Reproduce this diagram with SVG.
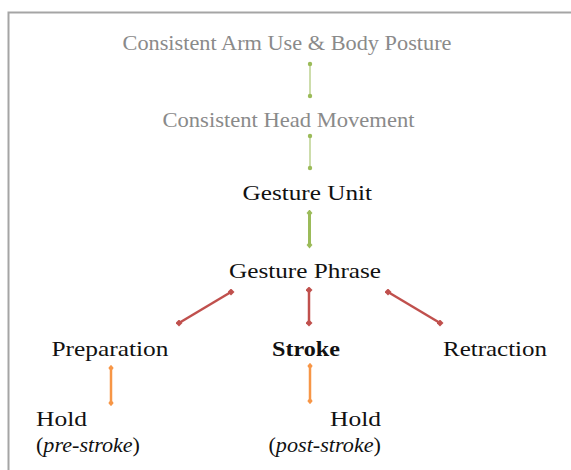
<svg xmlns="http://www.w3.org/2000/svg" width="571" height="470" viewBox="0 0 571 470">
<style>
text{font-family:"Liberation Serif","Times New Roman",serif;font-size:22px;fill:#111}
.g{fill:#8a8a8a}
.c{stroke-linecap:butt;fill:none}
.gr{stroke:#9bbb59}
.rd{stroke:#c0504d}
.or{stroke:#f79646}
</style>
<defs>
<marker id="mg" viewBox="-3 -3 6 6" markerWidth="6" markerHeight="6" markerUnits="userSpaceOnUse"><circle r="2.2" fill="#9bbb59"/></marker>
<marker id="mg2" viewBox="-3 -3 6 6" markerWidth="7" markerHeight="7" markerUnits="userSpaceOnUse"><path d="M0,-3L2.5,0L0,3L-2.5,0Z" fill="#9bbb59"/></marker>
<marker id="mr" viewBox="-3 -3 6 6" markerWidth="7" markerHeight="7" markerUnits="userSpaceOnUse"><path d="M0,-3L3,0L0,3L-3,0Z" fill="#c0504d"/></marker>
<marker id="mo" viewBox="-3 -3 6 6" markerWidth="6.5" markerHeight="6.5" markerUnits="userSpaceOnUse"><path d="M0,-3L2.5,0L0,3L-2.5,0Z" fill="#f79646"/></marker>
</defs>
<path d="M8.5,470V12.5H571" fill="none" stroke="#a5a5a5" stroke-width="2"/>
<g id="connectors">
<line class="c gr" x1="310" y1="64" x2="310" y2="96" stroke-width="1" marker-start="url(#mg)" marker-end="url(#mg)"/>
<line class="c gr" x1="310" y1="136" x2="310" y2="168" stroke-width="1" marker-start="url(#mg)" marker-end="url(#mg)"/>
<line class="c gr" x1="309.5" y1="213" x2="309.5" y2="245" stroke-width="3" marker-start="url(#mg2)" marker-end="url(#mg2)"/>
<line class="c rd" x1="231" y1="292" x2="179" y2="323" stroke-width="2.5" marker-start="url(#mr)" marker-end="url(#mr)"/>
<line class="c rd" x1="309" y1="290" x2="309" y2="323" stroke-width="2.5" marker-start="url(#mr)" marker-end="url(#mr)"/>
<line class="c rd" x1="388" y1="292" x2="440" y2="323" stroke-width="2.5" marker-start="url(#mr)" marker-end="url(#mr)"/>
<line class="c or" x1="111" y1="368" x2="111" y2="403" stroke-width="2.5" marker-start="url(#mo)" marker-end="url(#mo)"/>
<line class="c or" x1="310" y1="366" x2="310" y2="401" stroke-width="2.5" marker-start="url(#mo)" marker-end="url(#mo)"/>
</g>
<g id="arm"><text class="g" x="122.5" y="50" textLength="329" lengthAdjust="spacingAndGlyphs">Consistent Arm Use &amp; Body Posture</text></g>
<g id="head"><text class="g" x="162.5" y="127" textLength="252" lengthAdjust="spacingAndGlyphs">Consistent Head Movement</text></g>
<g id="unit"><text x="242.5" y="200" textLength="129.5" lengthAdjust="spacingAndGlyphs">Gesture Unit</text></g>
<g id="phrase"><text x="229" y="278" textLength="152" lengthAdjust="spacingAndGlyphs">Gesture Phrase</text></g>
<g id="prep"><text x="51.5" y="356" textLength="117" lengthAdjust="spacingAndGlyphs">Preparation</text></g>
<g id="stroke"><text x="272" y="356" font-weight="bold" textLength="68" lengthAdjust="spacingAndGlyphs">Stroke</text></g>
<g id="retraction"><text x="443" y="356" textLength="104" lengthAdjust="spacingAndGlyphs">Retraction</text></g>
<g id="hold-pre"><text x="36" y="425.5" textLength="51" lengthAdjust="spacingAndGlyphs">Hold</text><text x="36" y="451.5" textLength="104" lengthAdjust="spacingAndGlyphs">(<tspan font-style="italic">pre-stroke</tspan>)</text></g>
<g id="hold-post"><text x="330" y="425.5" textLength="51" lengthAdjust="spacingAndGlyphs">Hold</text><text x="268.5" y="451.5" textLength="112.5" lengthAdjust="spacingAndGlyphs">(<tspan font-style="italic">post-stroke</tspan>)</text></g>
</svg>
